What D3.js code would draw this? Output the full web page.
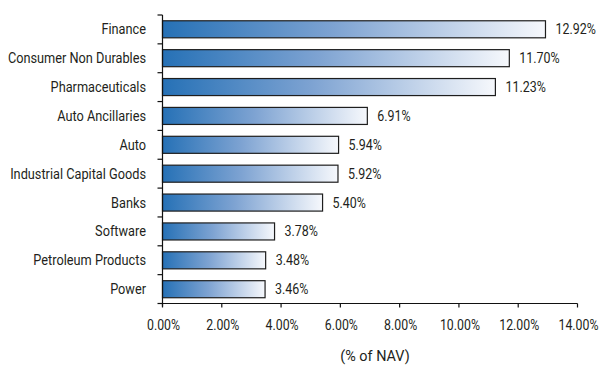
<!DOCTYPE html>
<html>
<head>
<meta charset="utf-8">
<script src="https://cdn.jsdelivr.net/npm/d3@7"></script>
<style>
  html, body { margin: 0; padding: 0; background: #fff; }
  svg text { font-family: Roboto, "DejaVu Sans Condensed", sans-serif; fill: #231f20; }
</style>
</head>
<body>
<svg id="chart" width="600" height="365"></svg>
<script>
// Sector allocation (% of NAV)
const sectors = ["Finance", "Consumer Non Durables", "Pharmaceuticals", "Auto Ancillaries", "Auto",
  "Industrial Capital Goods", "Banks", "Software", "Petroleum Products", "Power"];
const weights = [12.92, 11.70, 11.23, 6.91, 5.94, 5.92, 5.40, 3.78, 3.48, 3.46];
const xTicks = [0, 2, 4, 6, 8, 10, 12, 14];
const axisTitle = "(% of NAV)";

const svg = d3.select("#chart");
const plotLeft = 162.5, plotRight = 577.5, plotTop = 15, plotBottom = 303.5;

// narrow the glyphs a little for a condensed look
function condense(sel, k) {
  sel.each(function () {
    const len = this.getComputedTextLength();
    d3.select(this).attr("textLength", len * k).attr("lengthAdjust", "spacingAndGlyphs");
  });
}

const x = d3.scaleLinear().domain([0, 14]).range([plotLeft, plotRight]);
const y = d3.scaleBand().domain(sectors).range([plotTop, plotBottom]).paddingInner(0.41).paddingOuter(0.2);

const defs = svg.append("defs");
const grad = defs.append("linearGradient").attr("id", "barFill")
  .attr("x1", "0%").attr("x2", "100%").attr("y1", "0%").attr("y2", "0%");
grad.append("stop").attr("offset", "0%").attr("stop-color", "#2671b6");
grad.append("stop").attr("offset", "45%").attr("stop-color", "#7ea3d2");
grad.append("stop").attr("offset", "100%").attr("stop-color", "#f6f8fc");

const data = sectors.map((s, i) => ({ name: s, value: weights[i] }));

svg.append("g").selectAll("rect").data(data).join("rect")
  .attr("x", x(0))
  .attr("y", d => y(d.name))
  .attr("width", d => x(d.value) - x(0))
  .attr("height", y.bandwidth())
  .attr("fill", "url(#barFill)")
  .attr("stroke", "#1e1e1e")
  .attr("stroke-width", 1.2);

svg.append("g").selectAll("text").data(data).join("text")
  .attr("x", d => x(d.value) + 10)
  .attr("y", d => y(d.name) + y.bandwidth() / 2)
  .attr("dy", "0.36em")
  .attr("font-size", 14)
  .text(d => d.value.toFixed(2) + "%")
  .call(condense, 0.89);

// category axis with ticks between bands
const yAxis = svg.append("g");
yAxis.append("line").attr("x1", plotLeft).attr("x2", plotLeft).attr("y1", plotTop).attr("y2", plotBottom + 3)
  .attr("stroke", "#111").attr("stroke-width", 1.2);
const boundaries = d3.range(sectors.length + 1).map(i => plotTop + i * (plotBottom - plotTop) / sectors.length);
yAxis.selectAll("line.tick").data(boundaries).join("line").attr("class", "tick")
  .attr("x1", plotLeft - 5).attr("x2", plotLeft).attr("y1", d => d).attr("y2", d => d)
  .attr("stroke", "#111").attr("stroke-width", 1.2);
yAxis.selectAll("text").data(sectors).join("text")
  .attr("x", plotLeft - 16.5)
  .attr("y", d => y(d) + y.bandwidth() / 2)
  .attr("dy", "0.36em")
  .attr("text-anchor", "end")
  .attr("font-size", 14)
  .text(d => d)
  .call(condense, 0.91);

// value axis
const xAxis = svg.append("g");
xAxis.append("line").attr("x1", plotLeft - 3).attr("x2", plotRight).attr("y1", plotBottom).attr("y2", plotBottom)
  .attr("stroke", "#111").attr("stroke-width", 1.2);
xAxis.selectAll("line.tick").data(xTicks).join("line").attr("class", "tick")
  .attr("x1", d => x(d)).attr("x2", d => x(d)).attr("y1", plotBottom).attr("y2", plotBottom + 4)
  .attr("stroke", "#111").attr("stroke-width", 1.2);
xAxis.selectAll("text").data(xTicks).join("text")
  .attr("x", d => x(d) + 1)
  .attr("y", 330)
  .attr("text-anchor", "middle")
  .attr("font-size", 14)
  .text(d => d.toFixed(2) + "%")
  .call(condense, 0.88);

svg.append("text")
  .attr("x", 375).attr("y", 361)
  .attr("text-anchor", "middle")
  .attr("font-size", 15.5)
  .text(axisTitle)
  .call(condense, 0.93);
</script>
</body>
</html>
